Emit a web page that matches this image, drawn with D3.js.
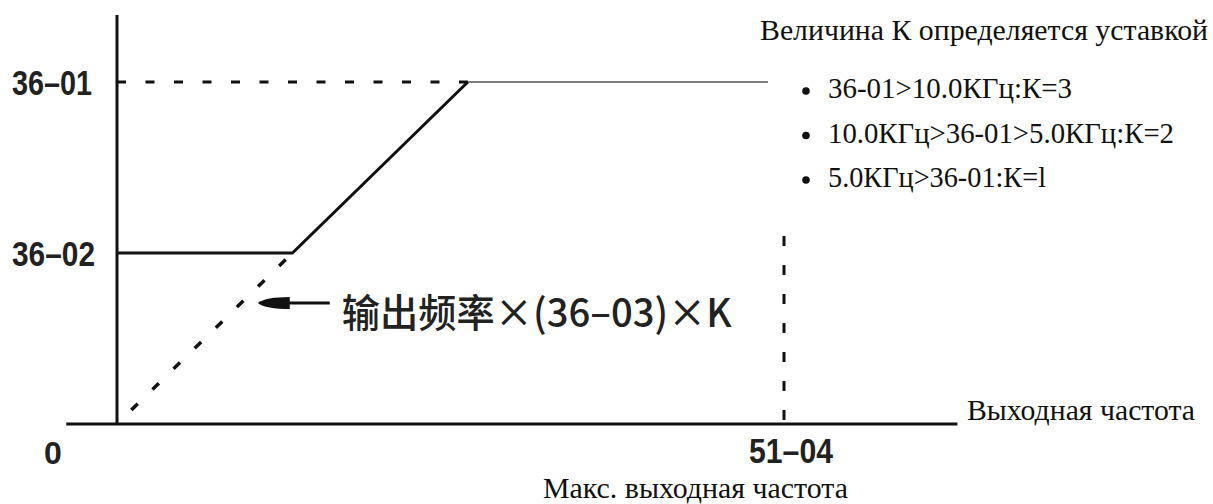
<!DOCTYPE html>
<html>
<head>
<meta charset="utf-8">
<script src="https://cdn.jsdelivr.net/npm/d3@7"></script>
<style>
  body { margin: 0; background: #fff; }
  svg { display: block; }
</style>
</head>
<body>
<div id="chart"></div>
<script>
// values (x: output frequency, y: carrier frequency, both in % units)
const yTickLabels = ["36–02", "36–01"];
const yTickValues = [50, 100];
const xTickLabels = ["0", "51–04"];
const xTickValues = [0, 100];

// solid characteristic: flat at 36-02, ramp, flat at 36-01
const curveX = [0, 26.3, 52.6];
const curveY = [50, 50, 100];
// thin continuation at 36-01
const limitX = [52.6, 97.6];
const limitY = [100, 100];
// dashed ramp from origin to the knee
const rampX = [0, 26.3];
const rampY = [0, 50];

const bulletLines = [
    "36-01>10.0КГц:К=3",
    "10.0КГц>36-01>5.0КГц:К=2",
    "5.0КГц>36-01:К=l"
];
const bulletWidths = [244, 346, 218];

const W = 1213, H = 504;

function drawChart() {
    d3.select("#chart").select("svg").remove();

    const svg = d3.select("#chart")
        .append("svg")
        .attr("width", W)
        .attr("height", H);

    // Scales
    const x = d3.scaleLinear().domain([0, 100]).range([117, 784]);
    const y = d3.scaleLinear().domain([0, 100]).range([424, 82]);

    const line = d3.line().x(d => x(d[0])).y(d => y(d[1]));

    // Axes
    svg.append("line")
        .attr("x1", x(-7.6)).attr("x2", x(126))
        .attr("y1", y(0)).attr("y2", y(0))
        .attr("stroke", "#111").attr("stroke-width", 3);
    svg.append("line")
        .attr("x1", x(0)).attr("x2", x(0))
        .attr("y1", y(0)).attr("y2", y(119.6))
        .attr("stroke", "#111").attr("stroke-width", 3);

    const narrow = "'Liberation Sans Narrow', 'Liberation Sans', sans-serif";

    // Y tick labels
    svg.selectAll(".ylab")
        .data(yTickValues)
        .enter().append("text")
        .attr("x", 12)
        .attr("y", d => y(d) + 13)
        .attr("font-family", narrow)
        .attr("font-weight", "bold")
        .attr("font-size", 35)
        .attr("textLength", (d, i) => i === 0 ? 83 : 80)
        .attr("lengthAdjust", "spacingAndGlyphs")
        .attr("fill", "#222")
        .text((d, i) => yTickLabels[i]);

    // X tick labels
    svg.append("text")
        .attr("x", x(xTickValues[0]) - 73)
        .attr("y", 464)
        .attr("font-family", narrow)
        .attr("font-weight", "bold")
        .attr("font-size", 32)
        .attr("fill", "#222")
        .text(xTickLabels[0]);
    svg.append("text")
        .attr("x", x(xTickValues[1]) + 7)
        .attr("y", 463)
        .attr("text-anchor", "middle")
        .attr("font-family", narrow)
        .attr("font-weight", "bold")
        .attr("font-size", 35)
        .attr("textLength", 84)
        .attr("lengthAdjust", "spacingAndGlyphs")
        .attr("fill", "#222")
        .text(xTickLabels[1]);

    // Dashed guide at 36-01
    svg.append("path")
        .datum([[0, 100], [52.6, 100]])
        .attr("d", line)
        .attr("fill", "none")
        .attr("stroke", "#111")
        .attr("stroke-width", 3)
        .attr("stroke-dasharray", "9,19.5");

    // Dashed vertical at max frequency
    svg.append("path")
        .datum([[100, 55], [100, 0]])
        .attr("d", line)
        .attr("fill", "none")
        .attr("stroke", "#111")
        .attr("stroke-width", 3)
        .attr("stroke-dasharray", "10,19");

    // Dashed ramp
    svg.append("path")
        .datum(rampX.map((v, i) => [v, rampY[i]]))
        .attr("d", line)
        .attr("fill", "none")
        .attr("stroke", "#111")
        .attr("stroke-width", 3.5)
        .attr("stroke-dasharray", "9,20.5")
        .attr("stroke-dashoffset", -20);

    // Thin limit line
    svg.append("path")
        .datum(limitX.map((v, i) => [v, limitY[i]]))
        .attr("d", line)
        .attr("fill", "none")
        .attr("stroke", "#555")
        .attr("stroke-width", 1.4);

    // Main curve
    svg.append("path")
        .datum(curveX.map((v, i) => [v, curveY[i]]))
        .attr("d", line)
        .attr("fill", "none")
        .attr("stroke", "#111")
        .attr("stroke-width", 3);

    // Arrow annotation
    const tip = [x(21.1), y(35.4)];
    svg.append("line")
        .attr("x1", tip[0] + 20).attr("x2", x(31.9))
        .attr("y1", tip[1]).attr("y2", tip[1])
        .attr("stroke", "#111").attr("stroke-width", 3);
    svg.append("path")
        .attr("d", `M${tip[0]},${tip[1]} Q${tip[0] + 8},${tip[1] - 6} ${tip[0] + 32},${tip[1] - 6} L${tip[0] + 32},${tip[1] + 6} Q${tip[0] + 8},${tip[1] + 6} ${tip[0]},${tip[1]} Z`)
        .attr("fill", "#111");

    svg.append("text")
        .attr("x", x(33.7))
        .attr("y", tip[1] + 24)
        .attr("font-family", "'Noto Sans CJK SC', sans-serif")
        .attr("font-weight", 500)
        .attr("font-size", 39)
        .attr("textLength", 390)
        .attr("lengthAdjust", "spacingAndGlyphs")
        .attr("fill", "#222")
        .text("输出频率×(36–03)×K");

    // Axis titles
    const serif = "'Liberation Serif', 'Times New Roman', serif";
    svg.append("text")
        .attr("x", 967).attr("y", 420)
        .attr("font-family", serif).attr("font-size", 29)
        .attr("textLength", 228).attr("lengthAdjust", "spacingAndGlyphs")
        .attr("fill", "#111")
        .text("Выходная частота");
    svg.append("text")
        .attr("x", 543).attr("y", 498)
        .attr("font-family", serif).attr("font-size", 29)
        .attr("textLength", 305).attr("lengthAdjust", "spacingAndGlyphs")
        .attr("fill", "#111")
        .text("Макс. выходная частота");

    // K explanation
    svg.append("text")
        .attr("x", 760).attr("y", 40)
        .attr("font-family", serif).attr("font-size", 29)
        .attr("textLength", 448).attr("lengthAdjust", "spacingAndGlyphs")
        .attr("fill", "#111")
        .text("Величина К определяется уставкой");

    const rows = svg.selectAll(".bullet")
        .data(bulletLines)
        .enter().append("g")
        .attr("transform", (d, i) => `translate(0,${98 + i * 44.5})`);
    rows.append("circle")
        .attr("cx", 806).attr("cy", -7).attr("r", 3.8)
        .attr("fill", "#111");
    rows.append("text")
        .attr("x", 828).attr("y", 0)
        .attr("font-family", serif).attr("font-size", 29)
        .attr("textLength", (d, i) => bulletWidths[i])
        .attr("lengthAdjust", "spacingAndGlyphs")
        .attr("fill", "#111")
        .text(d => d);
}

drawChart();
</script>
</body>
</html>
